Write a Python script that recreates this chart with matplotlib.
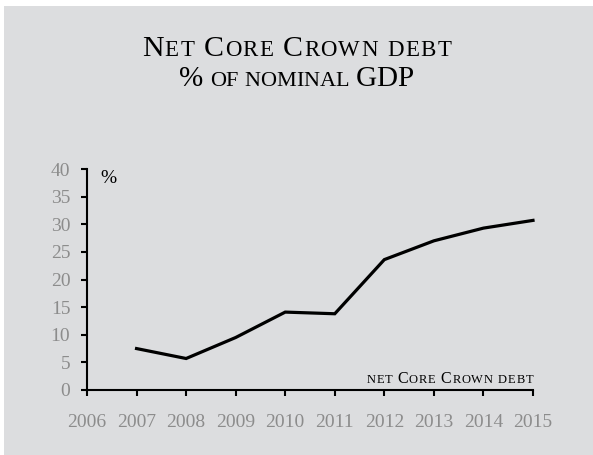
import matplotlib
matplotlib.use("Agg")
import matplotlib.pyplot as plt
import matplotlib.patches as mpatches
from matplotlib.offsetbox import TextArea, HPacker, AnchoredOffsetbox, DrawingArea

years = [2007, 2008, 2009, 2010, 2011, 2012, 2013, 2014, 2015]
debt_pct = [7.5, 5.7, 9.5, 14.1, 13.8, 23.6, 27.0, 29.3, 30.7]
xticks = list(range(2006, 2016))
yticks = list(range(0, 45, 5))

BG = "#dcdddf"
TICK_GREY = "#8c8c8c"
SERIF = "Liberation Serif"


def small_caps(fig, text, x, y, big, small, track=0.0, loc="center", color="black"):
    # fake small caps: capitals and symbols at full size, lowercase upper-cased smaller
    boxes = []
    for ch in text:
        if ch == " ":
            boxes.append(DrawingArea(small * 0.28, 1))
            continue
        size = big if (ch.isupper() or not ch.isalpha()) else small
        boxes.append(TextArea(ch.upper(), textprops=dict(fontsize=size, family=SERIF, color=color)))
    pack = HPacker(children=boxes, align="baseline", pad=0, sep=track)
    box = AnchoredOffsetbox(loc=loc, child=pack, pad=0, borderpad=0, frameon=False,
                            bbox_to_anchor=(x, y), bbox_transform=fig.transFigure)
    fig.add_artist(box)


fig = plt.figure(figsize=(5.93, 4.55), dpi=100)
fig.patch.set_facecolor("white")
fig.patches.append(mpatches.Rectangle((4 / 593, 0), 1, 449 / 455, transform=fig.transFigure,
                                      facecolor=BG, edgecolor="none", zorder=-10))

ax = fig.add_axes([87 / 593, 65 / 455, 446 / 593, 221 / 455])
ax.set_facecolor("none")
ax.plot(years, debt_pct, color="black", lw=2.3, solid_joinstyle="miter", clip_on=False)

ax.set_xlim(2006, 2015)
ax.set_ylim(0, 40)
ax.set_xticks(xticks)
ax.set_yticks(yticks)
ax.set_xticklabels([str(v) for v in xticks], family=SERIF, fontsize=14, color=TICK_GREY)
ax.set_yticklabels([str(v) for v in yticks], family=SERIF, fontsize=14, color=TICK_GREY)
ax.tick_params(axis="both", direction="out", length=4, width=1.5, color="black")
ax.tick_params(axis="x", pad=13)
ax.tick_params(axis="y", pad=8)
for side in ["top", "right"]:
    ax.spines[side].set_visible(False)
for side in ["left", "bottom"]:
    ax.spines[side].set_linewidth(1.5)

ax.text(0.03, 0.995, "%", transform=ax.transAxes, family=SERIF, fontsize=14,
        ha="left", va="top")

small_caps(fig, "Net Core Crown debt", 0.5, 1 - 49 / 455, 21.5, 16.5, track=1.0)
small_caps(fig, "% of nominal GDP", 0.5, 1 - 79 / 455, 21, 16, track=0.0)
small_caps(fig, "net Core Crown debt", 533 / 593, 1 - 379 / 455, 11.5, 9, track=0.6,
           loc="center right")

fig.savefig("out.png", dpi=100, facecolor=fig.get_facecolor())
